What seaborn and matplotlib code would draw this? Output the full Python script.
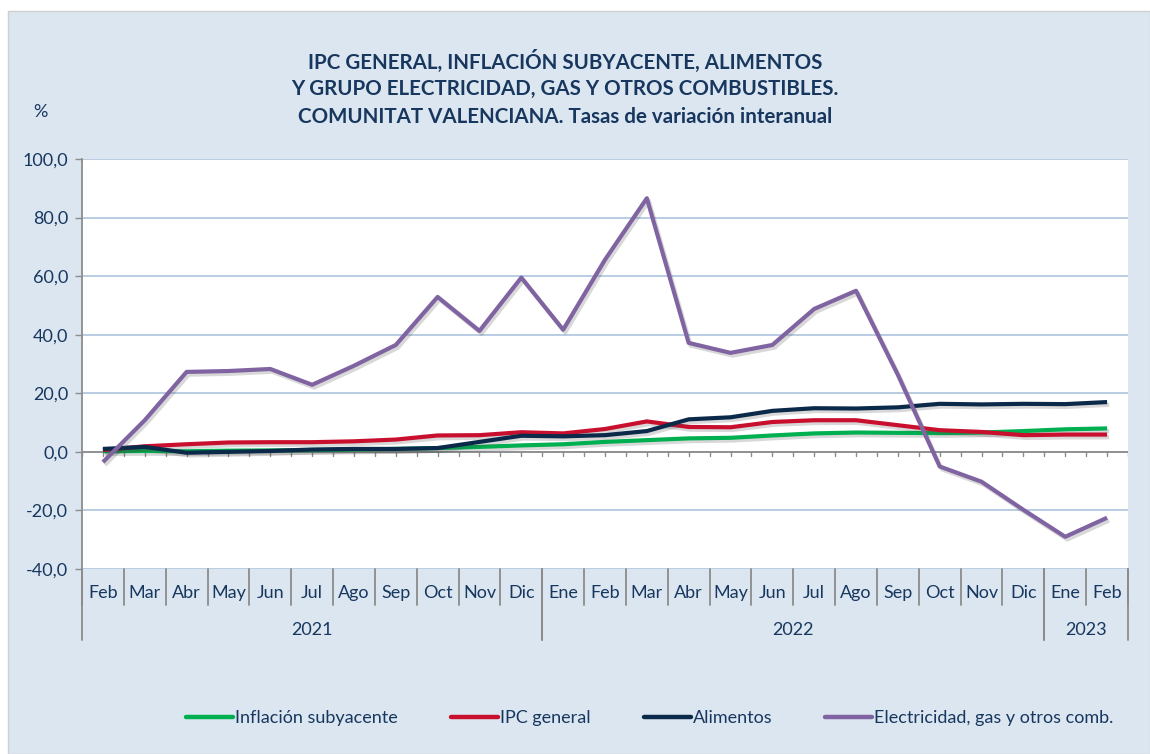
import matplotlib.pyplot as plt
import matplotlib.patheffects as pe
from matplotlib.patches import Rectangle
from matplotlib.lines import Line2D
import pandas as pd
import seaborn as sns

# Data (tasas de variacion interanual, %)
meses = ['Feb', 'Mar', 'Abr', 'May', 'Jun', 'Jul', 'Ago', 'Sep', 'Oct', 'Nov', 'Dic',
         'Ene', 'Feb', 'Mar', 'Abr', 'May', 'Jun', 'Jul', 'Ago', 'Sep', 'Oct', 'Nov', 'Dic',
         'Ene', 'Feb']
anios = ['2021', '2022', '2023']
meses_por_anio = [11, 12, 2]

subyacente = [0.2, 0.3, 0.2, 0.4, 0.5, 0.6, 0.8, 1.0, 1.3, 1.7, 2.2,
              2.6, 3.4, 4.0, 4.6, 4.8, 5.6, 6.3, 6.6, 6.5, 6.4, 6.6, 7.1,
              7.7, 8.0]
ipc_general = [0.6, 1.9, 2.6, 3.2, 3.3, 3.3, 3.6, 4.2, 5.6, 5.7, 6.7,
               6.3, 7.8, 10.4, 8.5, 8.4, 10.2, 10.8, 10.8, 9.1, 7.4, 6.8, 5.7,
               5.9, 5.9]
alimentos = [1.0, 1.7, -0.3, 0.0, 0.3, 0.8, 1.0, 1.0, 1.3, 3.4, 5.5,
             5.3, 5.7, 7.1, 11.1, 11.8, 14.0, 14.9, 14.8, 15.2, 16.4, 16.2, 16.4,
             16.3, 17.0]
electricidad = [-3.5, 10.8, 27.3, 27.6, 28.3, 22.9, 29.4, 36.5, 52.9, 41.3, 59.5,
                41.7, 65.6, 86.6, 37.2, 33.8, 36.5, 48.8, 55.0, 26.3, -5.0, -10.2, -19.8,
                -29.0, -22.5]

series = ['Inflación subyacente', 'IPC general', 'Alimentos',
          'Electricidad, gas y otros comb.']
colores = ['#00b050', '#c8102e', '#0b2a4a', '#8064a2']

n = len(meses)
df = pd.DataFrame({
    'x': list(range(n)) * 4,
    'valor': subyacente + ipc_general + alimentos + electricidad,
    'serie': [s for s in series for _ in range(n)],
})

texto = '#17375e'
fondo = '#dce6f1'
gris = '#8c8c8c'
fs = 13

sns.set_style('white')
plt.rcParams['font.family'] = ['Lato', 'DejaVu Sans']

fig = plt.figure(figsize=(11.5, 7.54), dpi=100, facecolor='white')
fig.patches.append(Rectangle((8 / 1150, 0), 1 - 8 / 1150, 743 / 754,
                             transform=fig.transFigure, facecolor=fondo,
                             edgecolor='#d0d0d0', linewidth=1, zorder=-5))

ax = fig.add_axes([82 / 1150, 1 - 569 / 754, (1128 - 82) / 1150, (569 - 159) / 754])
ax.set_facecolor('white')

sns.lineplot(data=df, x='x', y='valor', hue='serie', hue_order=series,
             palette=colores, linewidth=3, legend=False, ax=ax, zorder=3)
for ln in ax.get_lines():
    ln.set_path_effects([pe.SimpleLineShadow(offset=(1.5, -2), alpha=0.2, shadow_color='#404040'),
                         pe.Normal()])
    ln.set_solid_capstyle('butt')

ax.set_xlim(-0.5, n - 0.5)
ax.set_ylim(-40, 100)
yt = list(range(-40, 101, 20))
ax.set_yticks(yt)
ax.set_yticklabels([f'{v:.1f}'.replace('.', ',') for v in yt], color=texto, fontsize=fs)
ax.tick_params(axis='y', length=5, color=gris, width=1, pad=5, left=True)
ax.set_xticks([])
ax.set_xlabel('')
ax.set_ylabel('')
ax.grid(axis='y', color='#a6bedb', linewidth=1.1)
ax.set_axisbelow(True)
for s in ['top', 'right', 'bottom']:
    ax.spines[s].set_visible(False)
ax.spines['left'].set_color(gris)
ax.spines['left'].set_linewidth(1.3)

# zero axis with small ticks
ax.axhline(0, color=gris, linewidth=1.3, zorder=2)
for k in range(2 * n + 1):
    xk = -0.5 + k * 0.5
    ax.plot([xk, xk], [0, -1.4], color=gris, linewidth=1, zorder=2)

# multi-level category labels under the plot area
trans = ax.get_xaxis_transform()
for i, m in enumerate(meses):
    ax.text(i, -0.058, m, transform=trans, ha='center', va='center',
            color=texto, fontsize=fs, clip_on=False)
for b in range(n + 1):
    ax.plot([b - 0.5, b - 0.5], [0, -0.088], transform=trans, color=gris,
            linewidth=1.3, clip_on=False)
inicio = 0
for a, k in zip(anios, meses_por_anio):
    ax.text(inicio + (k - 1) / 2, -0.148, a, transform=trans, ha='center', va='center',
            color=texto, fontsize=fs, clip_on=False)
    for b in (inicio, inicio + k):
        ax.plot([b - 0.5, b - 0.5], [0, -0.173], transform=trans, color=gris,
                linewidth=1.3, clip_on=False)
    inicio += k

# titles
titulo = ['IPC GENERAL, INFLACIÓN SUBYACENTE, ALIMENTOS',
          'Y GRUPO ELECTRICIDAD, GAS Y OTROS COMBUSTIBLES.',
          'COMUNITAT VALENCIANA. Tasas de variación interanual']
for j, t in enumerate(titulo):
    fig.text(565 / 1150, 1 - (61 + 28 * j) / 754, t, ha='center', va='center',
             color=texto, fontsize=14.8, fontweight='bold')
fig.text(40 / 1150, 1 - 112 / 754, '%', ha='center', va='center', color=texto, fontsize=fs)

# legend
handles = [Line2D([0], [0], color=c, linewidth=3.2) for c in colores]
fig.legend(handles, series, loc='center', bbox_to_anchor=(650 / 1150, 1 - 718 / 754),
           ncol=4, frameon=False, handlelength=2.6, handletextpad=0.1,
           columnspacing=2.95, fontsize=fs, labelcolor=texto)

fig.savefig('out.png', dpi=100, facecolor='white')
